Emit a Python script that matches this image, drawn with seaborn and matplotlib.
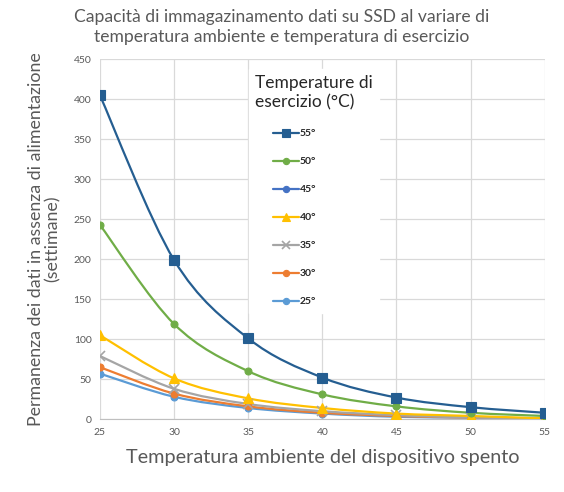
import numpy as np
import pandas as pd
import seaborn as sns
import matplotlib.pyplot as plt
from matplotlib.path import Path
from matplotlib.patches import PathPatch
from matplotlib.lines import Line2D
from matplotlib.offsetbox import DrawingArea

# ambient temperature of the switched-off device
amb_temp = [25, 30, 35, 40, 45, 50, 55]

# data retention (weeks) per operating temperature
t55 = [405, 199, 101, 52, 27, 15, 8]
t50 = [243, 119, 60, 31, 16, 8, 4]
t45 = [np.nan] * 7  # not drawn in the reference, legend only
t40 = [105, 51, 26, 14, 7, 4, 1]
t35 = [79, 38, 19, 10, 5, 2, 1]
t30 = [65, 32, 16, 8, 4, 2, 1]
t25 = [57, 28, 14, 7, 3, 2, 1]

series_names = ['55°', '50°', '45°', '40°', '35°', '30°', '25°']
series_vals = [t55, t50, t45, t40, t35, t30, t25]

colors = ['#255E91', '#70AD47', '#4472C4', '#FFC000', '#A5A5A5', '#ED7D31', '#5B9BD5']
markers = ['s', 'o', 'o', '^', 'x', 'o', 'o']
msizes = [6.5, 5, 5, 7, 6.5, 5, 5]

sns.set_style("white")
plt.rcParams['font.family'] = ['Lato', 'DejaVu Sans']
gray = '#595959'


def smooth_path(xs, ys):
    # Excel-like smoothed line: Catmull-Rom segments as cubic Bezier curves
    pts = np.column_stack([xs, ys]).astype(float)
    n = len(pts)
    verts = [pts[0]]
    codes = [Path.MOVETO]
    for i in range(n - 1):
        p0 = pts[max(i - 1, 0)]
        p1 = pts[i]
        p2 = pts[i + 1]
        p3 = pts[min(i + 2, n - 1)]
        c1 = p1 + (p2 - p0) / 6.0
        c2 = p2 - (p3 - p1) / 6.0
        verts += [c1, c2, p2]
        codes += [Path.CURVE4] * 3
    return Path(verts, codes)


fig = plt.figure(figsize=(5.64, 4.92), dpi=100)
ax = fig.add_axes([0.177, 0.148, 0.789, 0.732])

# draw from the back (25) to the front (55)
for name, vals, c, m, ms in reversed(list(zip(series_names, series_vals, colors, markers, msizes))):
    df = pd.DataFrame({'x': amb_temp, 'y': vals}).dropna()
    if df.empty:
        continue
    ax.add_patch(PathPatch(smooth_path(df['x'], df['y']), facecolor='none',
                           edgecolor=c, lw=1.6, zorder=3))
    sns.lineplot(data=df, x='x', y='y', ax=ax, linestyle='none', marker=m, color=c,
                 markersize=ms, markeredgewidth=1.2 if m == 'x' else 0.8,
                 markeredgecolor=c, zorder=4)

ax.set_xlim(25, 55)
ax.set_ylim(0, 450)
ax.set_xticks(amb_temp)
ax.set_yticks(range(0, 451, 50))
ax.grid(True, color='#D9D9D9', lw=0.9)
ax.set_axisbelow(True)
for s in ['top', 'right', 'left']:
    ax.spines[s].set_visible(False)
ax.spines['bottom'].set_color('#BFBFBF')
ax.tick_params(axis='both', labelsize=7.5, colors=gray, length=0, pad=6)

ax.set_xlabel('Temperatura ambiente del dispositivo spento', fontsize=14.3, color=gray, labelpad=9)
ax.set_ylabel('Permanenza dei dati in assenza di alimentazione\n(settimane)',
              fontsize=12.8, color=gray, labelpad=9, linespacing=1.05)
fig.suptitle('Capacità di immagazinamento dati su SSD al variare di\ntemperatura ambiente e temperatura di esercizio',
             fontsize=12.6, color=gray, y=0.982, va='top', linespacing=1.3)

handles = [Line2D([0], [0], color=c, marker=m, markersize=ms * 0.9, lw=1.6,
                  markeredgewidth=1.2 if m == 'x' else 0.8)
           for c, m, ms in zip(colors, markers, msizes)]
leg = ax.legend(handles, series_names, title='Temperature di\nesercizio (°C)',
                loc='upper left', bbox_to_anchor=(0.335, 0.972), frameon=True,
                fancybox=False, facecolor='white', edgecolor='white', framealpha=1,
                prop={'weight': 'bold', 'size': 7.5}, title_fontsize=12.5,
                labelspacing=1.8, handlelength=2.5, handletextpad=0.1,
                columnspacing=1.7, borderpad=0.6, borderaxespad=0)
leg._legend_box.align = 'left'
# indent the entries under the legend title
leg._legend_handle_box._children.insert(0, DrawingArea(0, 0))
leg.set_zorder(5)
if ax.get_legend() is not leg:
    ax.add_artist(leg)

fig.savefig('out.png', dpi=100)
